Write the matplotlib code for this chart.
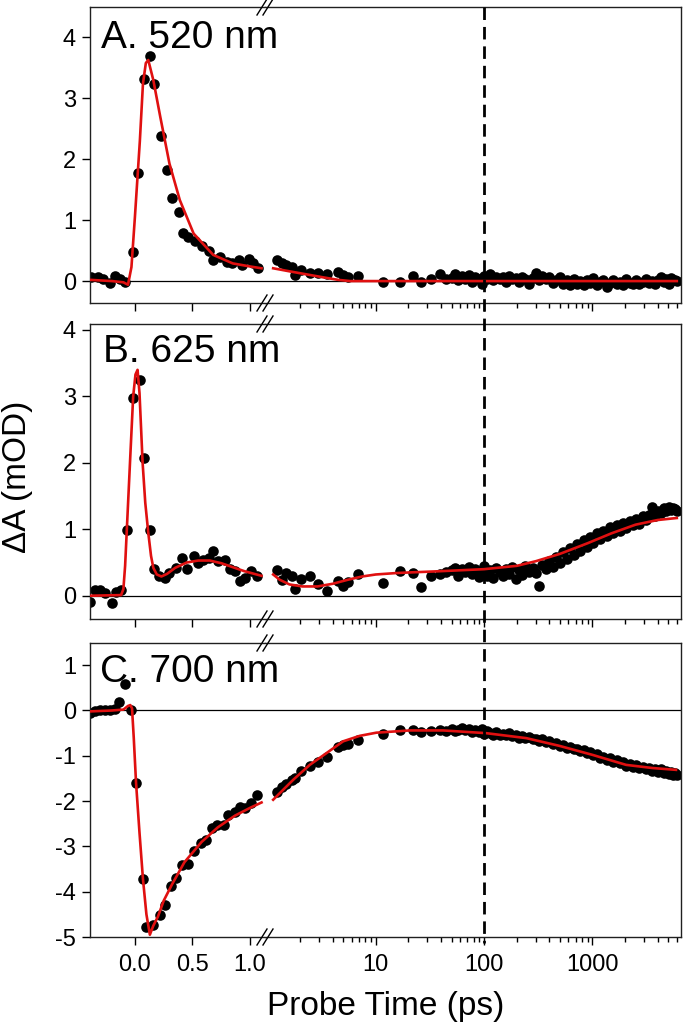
import matplotlib
matplotlib.use("Agg")
import matplotlib.pyplot as plt
import matplotlib.transforms as mtransforms
from matplotlib.lines import Line2D

plt.rcParams['font.family'] = ['Liberation Sans', 'DejaVu Sans']

# ---------------- data ----------------
panel_labels = ["A. 520 nm", "B. 625 nm", "C. 700 nm"]

# early-time (linear axis) data, per panel
tA_lin = [-0.38, -0.32, -0.28, -0.22, -0.17, -0.13, -0.09, -0.015, 0.03, 0.08, 0.13, 0.17, 0.23,
          0.28, 0.32, 0.38, 0.42, 0.46, 0.52, 0.58, 0.64, 0.68, 0.74, 0.80, 0.84, 0.90, 0.93,
          0.99, 1.03, 1.07]
vA_lin = [0.07, 0.06, 0.04, -0.03, 0.08, 0.03, -0.01, 0.48, 1.77, 3.31, 3.70, 3.23, 2.38,
          1.82, 1.36, 1.14, 0.79, 0.73, 0.66, 0.57, 0.50, 0.34, 0.39, 0.32, 0.29, 0.34, 0.26,
          0.37, 0.29, 0.22]

tB_lin = [-0.39, -0.35, -0.30, -0.26, -0.20, -0.16, -0.12, -0.07, -0.015, 0.043, 0.081, 0.13,
          0.17, 0.21, 0.26, 0.30, 0.36, 0.41, 0.45, 0.51, 0.55, 0.59, 0.64, 0.68, 0.72, 0.78,
          0.83, 0.87, 0.91, 0.96, 1.01, 1.06]
vB_lin = [-0.09, 0.09, 0.09, 0.04, -0.11, 0.06, 0.09, 0.99, 2.97, 3.25, 2.07, 0.99,
          0.40, 0.29, 0.27, 0.34, 0.42, 0.57, 0.40, 0.60, 0.49, 0.54, 0.57, 0.67, 0.52, 0.54,
          0.40, 0.37, 0.22, 0.27, 0.37, 0.29]

tC_lin = [-0.39, -0.35, -0.30, -0.26, -0.22, -0.17, -0.14, -0.09, -0.03, 0.01, 0.07, 0.10,
          0.16, 0.22, 0.26, 0.31, 0.36, 0.41, 0.46, 0.51, 0.57, 0.62, 0.67, 0.71, 0.77, 0.81,
          0.87, 0.91, 0.96, 1.01, 1.06]
vC_lin = [-0.06, -0.02, 0.00, 0.02, 0.02, 0.03, 0.18, 0.58, 0.02, -1.60, -3.72, -4.77,
          -4.73, -4.51, -4.29, -3.87, -3.70, -3.41, -3.38, -3.11, -2.93, -2.85, -2.60, -2.52,
          -2.52, -2.30, -2.23, -2.12, -2.15, -2.04, -1.86]

# late-time (log axis) probe delays, shared by all panels
t_log = [1.22, 1.35, 1.50, 1.67, 1.79, 2.06, 2.46, 2.94, 3.51, 4.5, 5.0, 5.6, 6.9, 11.7, 16.6,
         22.1, 26.4, 32.6, 38.9, 44.9,
         50, 54, 58, 62, 67, 72, 77, 83, 89, 95,
         100, 107, 114, 122, 130, 140, 150, 160, 170, 180,
         195, 210, 225, 240, 260, 280, 300, 320, 345, 370,
         400, 430, 460, 500, 540, 580, 620, 670, 720, 770,
         830, 890, 950, 1020, 1100, 1180, 1260, 1350, 1450, 1550,
         1670, 1790, 1920, 2060, 2200, 2360, 2530, 2710, 2900, 3100,
         3320, 3550, 3800, 4050, 4300, 4550, 4800, 5050, 5300, 5550,
         5800, 6050]
vA_log = [0.34, 0.29, 0.26, 0.23, 0.10, 0.18, 0.13, 0.14, 0.11, 0.15, 0.10, 0.07, 0.08, -0.01,
          -0.01, 0.08, -0.01, 0.04, 0.11, 0.04,
          0.05, 0.12, 0.02, 0.08, 0.04, 0.10, -0.02, 0.06, 0.03, -0.04,
          0.09, 0.04, 0.11, 0.02, 0.07, 0.03, 0.06, -0.01, 0.08, 0.04,
          0.05, -0.02, 0.07, 0.03, -0.04, 0.05, 0.13, 0.02, 0.08, 0.04,
          0.06, -0.03, 0.02, 0.07, -0.05, 0.01, -0.07, 0.03, -0.04, 0.00,
          -0.06, 0.02, -0.03, 0.05, -0.06, -0.02, 0.01, -0.09, -0.03, 0.02,
          -0.04, -0.01, -0.06, 0.03, -0.03, -0.05, 0.01, -0.04, -0.02, 0.04,
          -0.03, 0.00, -0.05, 0.02, 0.06, -0.02, 0.03, -0.04, 0.05, 0.01,
          0.02, 0.00]
vB_log = [0.39, 0.24, 0.34, 0.29, 0.10, 0.25, 0.30, 0.17, 0.07, 0.22, 0.14, 0.20, 0.32, 0.19,
          0.37, 0.34, 0.13, 0.29, 0.33, 0.36,
          0.38, 0.42, 0.30, 0.40, 0.36, 0.44, 0.33, 0.41, 0.28, 0.37,
          0.45, 0.30, 0.38, 0.26, 0.42, 0.35, 0.29, 0.40, 0.33, 0.44,
          0.25, 0.38, 0.31, 0.45, 0.36, 0.42, 0.34, 0.15, 0.46, 0.40,
          0.52, 0.44, 0.58, 0.50, 0.66, 0.55, 0.72, 0.62, 0.78, 0.68,
          0.84, 0.74, 0.88, 0.80, 0.94, 0.85, 0.98, 0.90, 1.04, 0.95,
          1.06, 0.98, 1.10, 1.02, 1.12, 1.06, 1.16, 1.08, 1.20, 1.14,
          1.22, 1.34, 1.20, 1.28, 1.25, 1.32, 1.27, 1.33, 1.29, 1.32,
          1.30, 1.28]
vC_log = [-1.80, -1.68, -1.62, -1.53, -1.50, -1.33, -1.22, -1.14, -1.02, -0.80, -0.76, -0.74,
          -0.66, -0.52, -0.44, -0.43, -0.48, -0.45, -0.44, -0.46,
          -0.40, -0.45, -0.42, -0.38, -0.44, -0.41, -0.47, -0.43, -0.48, -0.40,
          -0.52, -0.46, -0.50, -0.53, -0.48, -0.55, -0.51, -0.54, -0.50, -0.57,
          -0.55, -0.60, -0.56, -0.61, -0.58, -0.64, -0.62, -0.67, -0.64, -0.70,
          -0.68, -0.74, -0.72, -0.78, -0.76, -0.82, -0.80, -0.86, -0.84, -0.90,
          -0.88, -0.94, -0.92, -0.99, -0.97, -1.04, -1.02, -1.10, -1.05, -1.13,
          -1.10, -1.17, -1.14, -1.22, -1.18, -1.25, -1.21, -1.28, -1.24, -1.30,
          -1.27, -1.33, -1.29, -1.35, -1.30, -1.37, -1.33, -1.40, -1.36, -1.42,
          -1.38, -1.43]

# fitted curves
fA_t_lin = [-0.39, -0.2, -0.1, -0.06, -0.03, 0.0, 0.043, 0.07, 0.095, 0.116, 0.16, 0.22, 0.30,
            0.39, 0.51, 0.68, 0.85, 1.0, 1.1]
fA_v_lin = [0.02, 0.0, -0.02, -0.06, 0.23, 1.05, 2.3, 3.24, 3.58, 3.63, 3.3, 2.7, 1.93,
            1.33, 0.78, 0.43, 0.29, 0.24, 0.21]
fA_t_log = [1.13, 1.6, 2.3, 3.3, 4.5, 5.8, 10, 100, 1000, 6000]
fA_v_log = [0.21, 0.16, 0.11, 0.06, 0.02, 0.0, 0.0, 0.0, 0.0, 0.0]

fB_t_lin = [-0.39, -0.12, -0.1, -0.085, -0.07, -0.04, -0.015, 0.005, 0.023, 0.04, 0.067, 0.09,
            0.116, 0.14, 0.16, 0.19, 0.23, 0.28, 0.35, 0.45, 0.55, 0.65, 0.75, 0.85, 0.95, 1.1]
fB_v_lin = [0.0, 0.01, 0.1, 0.45, 1.0, 2.1, 3.0, 3.33, 3.4, 3.05, 2.0, 1.4,
            0.95, 0.6, 0.42, 0.32, 0.29, 0.33, 0.42, 0.50, 0.53, 0.53, 0.49, 0.43, 0.37, 0.30]
fB_t_log = [1.13, 1.3, 1.6, 2.1, 2.9, 4.0, 5.5, 7.5, 10, 15, 20, 40, 100, 200, 300, 500, 900,
            1500, 2500, 4000, 6000]
fB_v_log = [0.32, 0.24, 0.17, 0.14, 0.14, 0.18, 0.24, 0.29, 0.32, 0.34, 0.35, 0.37, 0.40,
            0.45, 0.52, 0.63, 0.79, 0.94, 1.07, 1.14, 1.17]

fC_t_lin = [-0.39, -0.2, -0.1, -0.06, -0.04, -0.025, -0.01, 0.01, 0.04, 0.07, 0.10, 0.13, 0.16,
            0.2, 0.25, 0.32, 0.43, 0.58, 0.72, 0.87, 1.0, 1.1]
fC_v_lin = [-0.02, 0.0, 0.02, 0.1, 0.12, 0.05, -0.6, -1.6, -2.7, -3.72, -4.5, -4.95, -4.75,
            -4.55, -4.2, -3.85, -3.35, -2.9, -2.58, -2.32, -2.15, -2.03]
fC_t_log = [1.13, 1.73, 2.46, 3.51, 5.0, 7.1, 10.1, 20.6, 41.7, 104, 245, 494, 1002, 2040,
            3580, 5900]
fC_v_log = [-1.97, -1.53, -1.20, -0.94, -0.68, -0.56, -0.49, -0.44, -0.44, -0.50, -0.61,
            -0.78, -0.98, -1.20, -1.27, -1.31]

ylims = [(-0.36, 4.5), (-0.35, 4.09), (-5.0, 1.49)]
yticks = [[0, 1, 2, 3, 4], [0, 1, 2, 3, 4], [1, 0, -1, -2, -3, -4, -5]]
xticks_lin = [0.0, 0.5, 1.0]
xtick_labels_lin = ["0.0", "0.5", "1.0"]
xticks_log = [10, 100, 1000]
xtick_labels_log = ["10", "100", "1000"]
marker_time = 100

# ---------------- figure ----------------
W, H = 683, 1026
fig = plt.figure(figsize=(W / 100, H / 100), dpi=100)

x_left, x_break, x_right = 90, 265, 681
rows = [(7, 303), (324, 619), (643, 937)]

lin_data = [(tA_lin, vA_lin), (tB_lin, vB_lin), (tC_lin, vC_lin)]
log_data = [vA_log, vB_log, vC_log]
fits_lin = [(fA_t_lin, fA_v_lin), (fB_t_lin, fB_v_lin), (fC_t_lin, fC_v_lin)]
fits_log = [(fA_t_log, fA_v_log), (fB_t_log, fB_v_log), (fC_t_log, fC_v_log)]
label_pos = [(101, 47.7), (103, 361.7), (100, 681.7)]

red = '#e01010'
dot_s = 58
spine_lw = 1.0
tick_fs = 17
axes_right = []

for i, (top, bot) in enumerate(rows):
    b = 1 - bot / H
    h = (bot - top) / H
    axL = fig.add_axes([x_left / W, b, (x_break - x_left) / W, h])
    axR = fig.add_axes([x_break / W, b, (x_right - x_break) / W, h])
    axes_right.append(axR)

    axL.set_xlim(-0.39, 1.13)
    axR.set_xscale('log')
    axR.set_xlim(0.95, 6560)
    for ax in (axL, axR):
        ax.set_ylim(*ylims[i])
        ax.axhline(0, color='black', lw=0.9, zorder=1)
        for s in ax.spines.values():
            s.set_linewidth(spine_lw)
            s.set_color('#202020')
    axL.spines['right'].set_visible(False)
    axR.spines['left'].set_visible(False)

    tl, vl = lin_data[i]
    axL.scatter(tl, vl, s=dot_s, color='black', zorder=2, linewidths=0)
    axL.plot(*fits_lin[i], color=red, lw=1.9, zorder=3)
    axR.scatter(t_log, log_data[i], s=dot_s, color='black', zorder=2, linewidths=0)
    axR.plot(*fits_log[i], color=red, lw=1.9, zorder=3)

    axL.set_yticks(yticks[i])
    axL.set_yticklabels([str(v) for v in yticks[i]])
    axL.tick_params(axis='y', direction='out', length=6, width=1, labelsize=tick_fs, pad=4)
    axR.tick_params(axis='y', left=False, right=False, labelleft=False)

    axL.set_xticks(xticks_lin)
    axR.set_xticks(xticks_log)
    axL.tick_params(axis='x', direction='out', length=6, width=1, labelsize=tick_fs, pad=6)
    axR.tick_params(axis='x', which='major', direction='out', length=6, width=1,
                    labelsize=tick_fs, pad=6)
    axR.tick_params(axis='x', which='minor', direction='out', length=3.5, width=1)
    if i == 2:
        axL.set_xticklabels(xtick_labels_lin)
        axR.set_xticklabels(xtick_labels_log)
    else:
        axL.set_xticklabels([])
        axR.set_xticklabels([])
        axR.tick_params(axis='x', which='minor', labelbottom=False)

    # panel label
    lx, ly = label_pos[i]
    fig.text(lx / W, 1 - ly / H, panel_labels[i], fontsize=28, va='baseline', ha='left')

    # axis-break marks
    for yy in (top, bot):
        for dx in (-3, 3):
            x0 = (x_break + dx - 5) / W
            x1 = (x_break + dx + 5) / W
            y0 = 1 - (yy + 8) / H
            y1 = 1 - (yy - 8) / H
            fig.add_artist(Line2D([x0, x1], [y0, y1], color='black', lw=1.0))

# dashed vertical marker line through all panels
trans = mtransforms.blended_transform_factory(axes_right[2].transData, fig.transFigure)
fig.add_artist(Line2D([marker_time, marker_time], [1 - 7 / H, 1 - 943 / H], transform=trans,
                      color='black', lw=2.0, linestyle=(0, (4.5, 2.5))))

fig.text(18 / W, 1 - 477 / H, "ΔA (mOD)", rotation=90, fontsize=24, va='center', ha='center')
fig.text(386 / W, 1 - 1007 / H, "Probe Time (ps)", fontsize=24, va='center', ha='center')

fig.savefig("out.png", dpi=100)
